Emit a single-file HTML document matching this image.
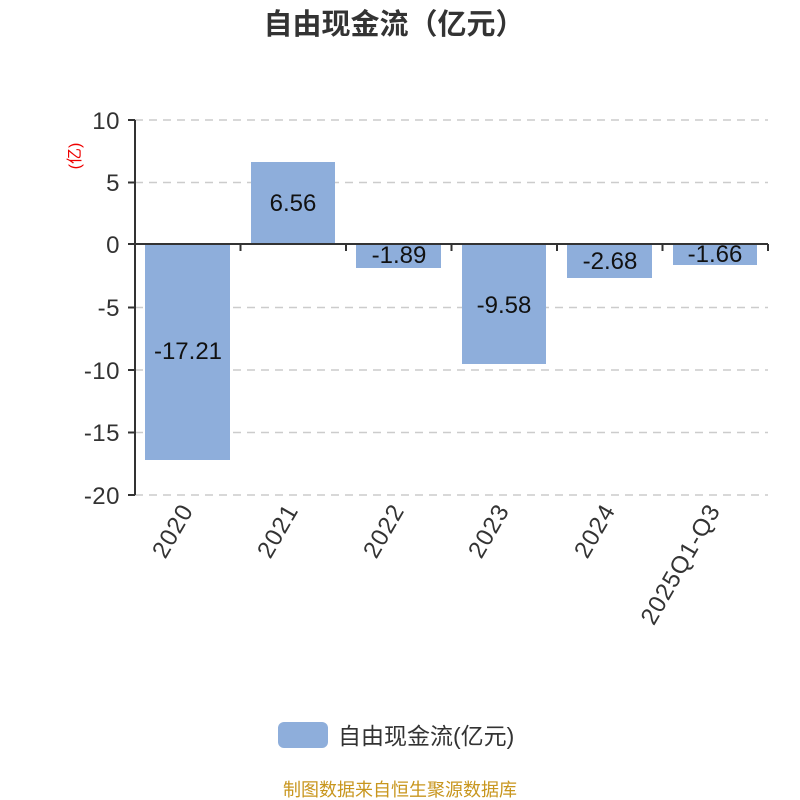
<!DOCTYPE html>
<html><head><meta charset="utf-8"><style>body{margin:0;background:#fff}svg{display:block}</style></head><body>
<svg width="800" height="800" xmlns="http://www.w3.org/2000/svg" font-family="'Liberation Sans','Noto Sans CJK SC',sans-serif">
<text x="394" y="34" text-anchor="middle" font-size="29" font-weight="bold" fill="#333">自由现金流（亿元）</text>
<g stroke="#ccc" stroke-width="1.5" stroke-dasharray="8,6">
<line x1="135" x2="768" y1="120" y2="120"/><line x1="135" x2="768" y1="182.5" y2="182.5"/>
<line x1="135" x2="768" y1="307.5" y2="307.5"/><line x1="135" x2="768" y1="370" y2="370"/>
<line x1="135" x2="768" y1="432.5" y2="432.5"/><line x1="135" x2="768" y1="495" y2="495"/>
</g>
<g fill="#8eaedb">
<rect x="145" y="244" width="85" height="216"/>
<rect x="251" y="162" width="84" height="82"/>
<rect x="356" y="244" width="85" height="24"/>
<rect x="462" y="244" width="84" height="120"/>
<rect x="567" y="244" width="85" height="34"/>
<rect x="673" y="244" width="84" height="21"/>
</g>
<g stroke="#333" stroke-width="2" fill="none">
<line x1="135" y1="120" x2="135" y2="495"/>
<line x1="135" y1="244" x2="768" y2="244"/>
<line x1="128" y1="120" x2="135" y2="120"/><line x1="128" y1="182.5" x2="135" y2="182.5"/>
<line x1="128" y1="244" x2="135" y2="244"/><line x1="128" y1="307.5" x2="135" y2="307.5"/>
<line x1="128" y1="370" x2="135" y2="370"/><line x1="128" y1="432.5" x2="135" y2="432.5"/>
<line x1="128" y1="495" x2="135" y2="495"/>
<line x1="240.5" y1="244" x2="240.5" y2="251"/><line x1="346" y1="244" x2="346" y2="251"/>
<line x1="451.5" y1="244" x2="451.5" y2="251"/><line x1="557" y1="244" x2="557" y2="251"/>
<line x1="662.5" y1="244" x2="662.5" y2="251"/><line x1="768" y1="244" x2="768" y2="251"/>
</g>
<g font-size="24" fill="#333" text-anchor="end" letter-spacing="0.5">
<text x="120" y="129">10</text><text x="120" y="191">5</text><text x="120" y="253">0</text>
<text x="120" y="316">-5</text><text x="120" y="379">-10</text><text x="120" y="441">-15</text><text x="120" y="504">-20</text>
</g>
<text transform="translate(80,156) rotate(-90)" text-anchor="middle" font-size="16" fill="#e00">(亿)</text>
<g font-size="24" fill="#111" text-anchor="middle">
<text x="188" y="359">-17.21</text><text x="293" y="211">6.56</text><text x="399" y="263">-1.89</text>
<text x="504" y="313">-9.58</text><text x="610" y="269">-2.68</text><text x="715" y="262">-1.66</text>
</g>
<g font-size="24" fill="#333" text-anchor="end" letter-spacing="1">
<text transform="translate(194,510) rotate(-60)">2020</text>
<text transform="translate(299,510) rotate(-60)">2021</text>
<text transform="translate(405,510) rotate(-60)">2022</text>
<text transform="translate(510,510) rotate(-60)">2023</text>
<text transform="translate(616,510) rotate(-60)">2024</text>
<text transform="translate(721,510) rotate(-60)">2025Q1-Q3</text>
</g>
<rect x="278" y="722" width="50" height="26" rx="6" fill="#8eaedb"/>
<text x="338" y="744" font-size="23" fill="#333">自由现金流(亿元)</text>
<text x="400" y="796" text-anchor="middle" font-size="18" fill="#c8961e">制图数据来自恒生聚源数据库</text>
</svg>
</body></html>
